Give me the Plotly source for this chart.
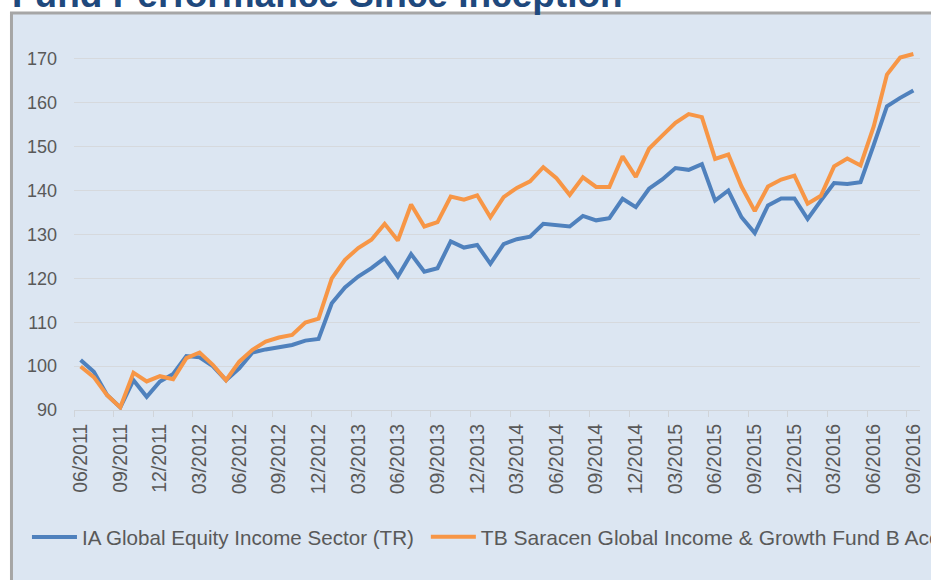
import plotly.graph_objects as go
import pandas as pd

# Monthly categories 06/2011 .. 09/2016
months = pd.date_range("2011-06-01", "2016-09-01", freq="MS").strftime("%m/%Y").tolist()

sector = [101.4, 98.7, 93.4, 90.6, 96.8, 93.0, 96.5, 98.2, 102.3, 102.0,
          100.0, 96.8, 99.5, 103.1, 103.8, 104.4, 104.8, 105.8, 106.2, 114.3,
          117.9, 120.4, 122.3, 124.6, 120.4, 125.5, 121.5, 122.3, 128.4, 127.0,
          127.6, 123.3, 127.8, 128.9, 129.5, 132.4, 132.0, 131.8, 134.2, 133.2,
          133.7, 138.1, 136.2, 140.4, 142.5, 145.1, 144.7, 146.0, 137.7, 140.0,
          133.9, 130.3, 136.6, 138.2, 138.2, 133.5, 137.7, 141.7, 141.5, 141.9,
          150.4, 159.2, 161.1, 162.8]

fund = [99.9, 97.5, 93.4, 90.6, 98.5, 96.5, 97.7, 97.0, 101.8, 103.1,
        100.3, 96.8, 101.0, 103.7, 105.6, 106.5, 107.1, 109.9, 110.8, 120.0,
        124.2, 126.9, 128.8, 132.4, 128.6, 136.8, 131.8, 132.8, 138.6, 137.9,
        138.9, 133.9, 138.5, 140.6, 142.1, 145.3, 142.8, 139.0, 143.0, 140.8,
        140.8, 147.8, 143.1, 149.5, 152.5, 155.4, 157.4, 156.7, 147.2, 148.2,
        140.9, 135.3, 140.9, 142.5, 143.4, 137.0, 138.8, 145.5, 147.3, 145.7,
        154.6, 166.4, 170.3, 171.1]

y_ticks = [90, 100, 110, 120, 130, 140, 150, 160, 170]

x = list(range(len(months)))
tick_idx = x[::3]
tick_text = [months[i] for i in tick_idx]

FONT = "Liberation Sans, Arial, sans-serif"
GREY = "#595959"
BG = "#dce6f2"

fig = go.Figure()
fig.add_trace(go.Scatter(x=x, y=sector, mode="lines",
                         name="IA Global Equity Income Sector (TR)",
                         line=dict(color="#4f81bd", width=4), legend="legend",
                         showlegend=True))
fig.add_trace(go.Scatter(x=x, y=fund, mode="lines",
                         name="TB Saracen Global Income & Growth Fund B Acc",
                         line=dict(color="#f79646", width=4), legend="legend2",
                         showlegend=True))

fig.update_layout(
    width=931, height=580, autosize=False, showlegend=True,
    margin=dict(l=74, r=11.4, t=50.4, b=170, pad=0, autoexpand=False),
    paper_bgcolor="white", plot_bgcolor=BG,
    font=dict(family=FONT, color=GREY),
    xaxis=dict(range=[-0.5, 63.5], tickmode="array", tickvals=tick_idx, ticktext=tick_text,
               tickangle=-90, tickfont=dict(family=FONT, size=19.5, color=GREY),
               showgrid=False, zeroline=False, showline=True, linecolor="#d0d4d9", linewidth=1,
               ticks="outside", ticklen=5, tickcolor="rgba(0,0,0,0)",
               minor=dict(tickmode="linear", tick0=-0.5, dtick=3, ticks="outside", ticklen=6,
                          tickcolor="#d0d4d9", showgrid=False)),
    yaxis=dict(range=[90, 172], tickmode="array", tickvals=y_ticks,
               tickfont=dict(family=FONT, size=18, color=GREY),
               showgrid=True, gridcolor="#d6d9dd", gridwidth=1, zeroline=False, showline=False,
               ticks="", ticklabelstandoff=16),
    legend=dict(orientation="h", x=-0.0556, xanchor="left", y=-0.353, yanchor="middle",
                font=dict(family=FONT, size=20.6, color=GREY), bgcolor="rgba(0,0,0,0)",
                itemwidth=45, visible=True),
    legend2=dict(orientation="h", x=0.4159, xanchor="left", y=-0.353, yanchor="middle",
                 font=dict(family=FONT, size=21, color=GREY), bgcolor="rgba(0,0,0,0)",
                 itemwidth=45, visible=True),
    shapes=[dict(type="rect", xref="paper", yref="paper", x0=-0.0739, x1=1.2, y0=-0.6, y1=1.1026,
                 line=dict(color="#a6a6a6", width=3), fillcolor=BG, layer="below")],
    annotations=[dict(text="<b>Fund Performance Since Inception</b>", xref="paper", yref="paper",
                      x=-0.0757, xanchor="left", y=1.092, yanchor="bottom", showarrow=False,
                      font=dict(family=FONT, size=37, color="#1f497d"))],
)

fig.write_html("out.html")
